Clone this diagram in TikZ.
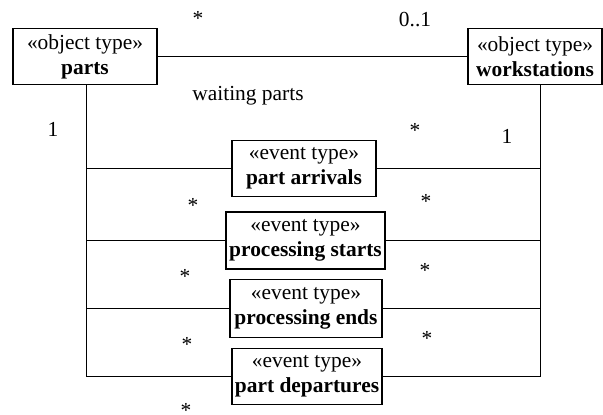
\documentclass[tikz,border=0pt]{standalone}
\usepackage{fontspec}
\setmainfont{Liberation Serif}
\begin{document}
\begin{tikzpicture}[x=1bp,y=-1bp,
  box/.style={draw,line width=1.7bp,align=center,inner sep=0pt,
    font=\fontsize{21.5}{25}\selectfont},
  conn/.style={line width=1.1bp},
  lbl/.style={font=\fontsize{21.5}{25}\selectfont,inner sep=0pt}]
\useasboundingbox (0,0) rectangle (603,414);
\node[box,minimum width=144bp,minimum height=56bp] (parts) at (85,56.5) {«object type»\\\textbf{parts}};
\node[box,minimum width=134bp,minimum height=56bp] (ws) at (535,56.5) {«object type»\\\textbf{workstations}};
\node[box,minimum width=144bp,minimum height=56bp] (pa) at (304,168.5) {«event type»\\\textbf{part arrivals}};
\node[box,minimum width=159bp,minimum height=57bp] (ps) at (305.5,240.5) {«event type»\\\textbf{processing starts}};
\node[box,minimum width=152bp,minimum height=58bp] (pe) at (306,308.5) {«event type»\\\textbf{processing ends}};
\node[box,minimum width=150bp,minimum height=56bp] (pd) at (307,376.5) {«event type»\\\textbf{part departures}};
\coordinate (psd) at ([xshift=1.5bp]parts.south);
\coordinate (wsd) at ([xshift=5.5bp]ws.south);
\draw[conn] (parts.east) -- (ws.west);
\draw[conn] (psd) |- (pa.west);
\draw[conn] (psd) |- (ps.west);
\draw[conn] (psd) |- (pe.west);
\draw[conn] (psd) |- (pd.west);
\draw[conn] (wsd) |- (pa.east);
\draw[conn] (wsd) |- (ps.east);
\draw[conn] (wsd) |- (pe.east);
\draw[conn] (wsd) |- (pd.east);
\node[lbl] (s0) at (198,18) {*};
\node[lbl] (m01) at (415,20) {0..1};
\node[lbl] (wp) at (248,96) {waiting parts};
\node[lbl] (one1) at (53,129) {1};
\node[lbl] (s1) at (415,130) {*};
\node[lbl] (one2) at (507,136) {1};
\node[lbl] (s2) at (193,205) {*};
\node[lbl] (s3) at (426,201) {*};
\node[lbl] (s4) at (185,276) {*};
\node[lbl] (s5) at (425,270) {*};
\node[lbl] (s6) at (187,344) {*};
\node[lbl] (s7) at (427,338) {*};
\node[lbl] (s8) at (186,410) {*};
\end{tikzpicture}
\end{document}
